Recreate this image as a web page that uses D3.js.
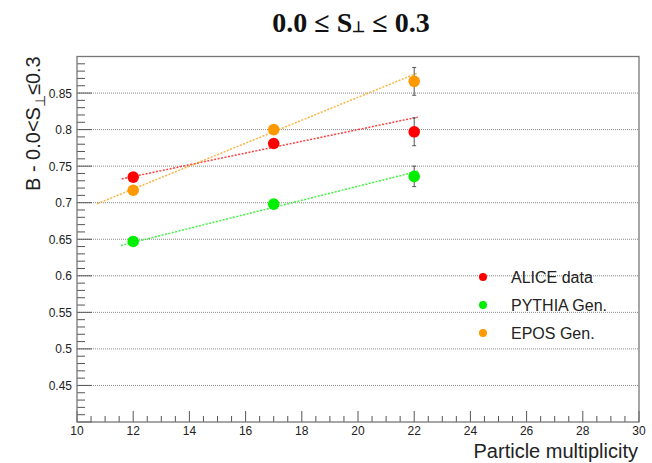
<!DOCTYPE html>
<html>
<head>
<meta charset="utf-8">
<script src="https://cdn.jsdelivr.net/npm/d3@7"></script>
<style>
  body { margin: 0; background: #fff; }
  svg { display: block; }
  .tick-label { font-family: "Liberation Sans", Arial, sans-serif; font-size: 12px; fill: #222; }
</style>
</head>
<body>
<div id="chart"></div>
<script>
var width = 652, height = 463;

// data
var multiplicity = [12, 17, 22];
var aliceB = [0.735, 0.781, 0.797];
var aliceErr = [0.003, 0.004, 0.019];
var pythiaB = [0.647, 0.698, 0.736];
var pythiaErr = [0.002, 0.003, 0.014];
var eposB = [0.717, 0.800, 0.866];
var eposErr = [0.003, 0.004, 0.019];

// linear fits: [p0, p1, xmin, xmax]
var aliceFit = [0.6396, 0.00802, 11.59, 22.13];
var pythiaFit = [0.5305, 0.0096, 11.56, 22.13];
var eposFit = [0.5304, 0.01569, 10.72, 22.13];

var seriesNames = ["ALICE data", "PYTHIA Gen.", "EPOS Gen."];
var seriesColors = ["#ff0000", "#00ee00", "#ff9900"];

var yMajorTicks = [0.45, 0.5, 0.55, 0.6, 0.65, 0.7, 0.75, 0.8, 0.85];
var xMajorTicks = [10, 12, 14, 16, 18, 20, 22, 24, 26, 28, 30];

var series = [
  { name: seriesNames[0], color: seriesColors[0], y: aliceB, err: aliceErr, fit: aliceFit },
  { name: seriesNames[1], color: seriesColors[1], y: pythiaB, err: pythiaErr, fit: pythiaFit },
  { name: seriesNames[2], color: seriesColors[2], y: eposB, err: eposErr, fit: eposFit }
];

var x = d3.scaleLinear().domain([10, 30]).range([77, 639]);
var y = d3.scaleLinear().domain([0.4, 0.9]).range([422, 56.5]);

var svg = d3.select('#chart').append('svg')
  .attr('width', width)
  .attr('height', height);

// grid
svg.selectAll('.grid')
  .data(yMajorTicks)
  .enter().append('line')
  .attr('class', 'grid')
  .attr('x1', x(10)).attr('x2', x(30))
  .attr('y1', function (d) { return y(d); })
  .attr('y2', function (d) { return y(d); })
  .style('stroke', '#888')
  .style('stroke-width', 1)
  .style('stroke-dasharray', '1,1');

// y ticks (minor every 0.01, major every 0.05)
var yMinor = d3.range(0, 51).map(function (i) { return 0.4 + i * 0.01; });
svg.selectAll('.ytick')
  .data(yMinor)
  .enter().append('line')
  .attr('x1', x(10))
  .attr('x2', function (d, i) { return x(10) + (i % 5 == 0 ? 15 : 8); })
  .attr('y1', function (d) { return y(d); })
  .attr('y2', function (d) { return y(d); })
  .style('stroke', '#555')
  .style('stroke-width', 1);

svg.selectAll('.ylabel')
  .data(yMajorTicks)
  .enter().append('text')
  .attr('class', 'tick-label')
  .attr('x', 72)
  .attr('y', function (d) { return y(d) + 4.5; })
  .style('text-anchor', 'end')
  .text(function (d) { return d3.format('')(+d.toFixed(2)); });

// x ticks (minor every 0.5, major every 2)
var xMinor = d3.range(0, 41).map(function (i) { return 10 + i * 0.5; });
svg.selectAll('.xtick')
  .data(xMinor)
  .enter().append('line')
  .attr('x1', function (d) { return x(d); })
  .attr('x2', function (d) { return x(d); })
  .attr('y1', y(0.4))
  .attr('y2', function (d, i) { return y(0.4) - (i % 4 == 0 ? 11 : 6); })
  .style('stroke', '#555')
  .style('stroke-width', 1);

svg.selectAll('.xlabel')
  .data(xMajorTicks)
  .enter().append('text')
  .attr('class', 'tick-label')
  .attr('x', function (d) { return x(d); })
  .attr('y', 435)
  .style('text-anchor', 'middle')
  .text(function (d) { return d; });

// frame
svg.append('rect')
  .attr('x', x(10)).attr('y', y(0.9))
  .attr('width', x(30) - x(10))
  .attr('height', y(0.4) - y(0.9))
  .style('fill', 'none')
  .style('stroke', '#777')
  .style('stroke-width', 1.3);

// fit lines
var line = d3.line()
  .x(function (d) { return x(d[0]); })
  .y(function (d) { return y(d[1]); });

series.forEach(function (s) {
  var f = s.fit;
  var pts = [[f[2], f[0] + f[1] * f[2]], [f[3], f[0] + f[1] * f[3]]];
  svg.append('path')
    .attr('d', line(pts))
    .style('fill', 'none')
    .style('stroke', s.color)
    .style('stroke-opacity', 0.75)
    .style('stroke-width', 1.5)
    .style('stroke-dasharray', '2,1.5');
});

// error bars and markers
series.forEach(function (s) {
  var g = svg.append('g');
  multiplicity.forEach(function (m, i) {
    var lo = y(s.y[i] - s.err[i]), hi = y(s.y[i] + s.err[i]);
    g.append('line')
      .attr('x1', x(m)).attr('x2', x(m))
      .attr('y1', lo).attr('y2', hi)
      .style('stroke', '#555').style('stroke-width', 1);
    [lo, hi].forEach(function (yy) {
      g.append('line')
        .attr('x1', x(m) - 2).attr('x2', x(m) + 2)
        .attr('y1', yy).attr('y2', yy)
        .style('stroke', '#555').style('stroke-width', 1);
    });
  });
  g.selectAll('circle')
    .data(multiplicity)
    .enter().append('circle')
    .attr('cx', function (d) { return x(d); })
    .attr('cy', function (d, i) { return y(s.y[i]); })
    .attr('r', 5.8)
    .style('fill', s.color);
});

// legend
var legend = svg.selectAll('.legend')
  .data(series)
  .enter().append('g')
  .attr('class', 'legend')
  .attr('transform', function (d, i) { return 'translate(483,' + (277 + i * 28) + ')'; });

legend.append('circle')
  .attr('r', 4)
  .style('fill', function (d) { return d.color; });

legend.append('text')
  .attr('x', 28)
  .attr('y', 5.5)
  .style('font-family', '"Liberation Sans", Arial, sans-serif')
  .style('font-size', '16px')
  .style('fill', '#222')
  .text(function (d) { return d.name; });

// title
var title = svg.append('text')
  .attr('x', 351)
  .attr('y', 31.5)
  .style('text-anchor', 'middle')
  .style('font-family', '"Liberation Serif", "Times New Roman", serif')
  .style('font-weight', 'bold')
  .style('font-size', '28px')
  .style('fill', '#111');
title.append('tspan').text('0.0 \u2264 S');
title.append('tspan').style('font-size', '15px').text('\u22a5');
title.append('tspan').text(' \u2264 0.3');

// axis titles
svg.append('text')
  .attr('x', 638)
  .attr('y', 458)
  .style('text-anchor', 'end')
  .style('font-family', '"Liberation Sans", Arial, sans-serif')
  .style('font-size', '20px')
  .style('fill', '#222')
  .text('Particle multiplicity');

var ytitle = svg.append('text')
  .attr('transform', 'translate(40,191) rotate(-90)')
  .style('text-anchor', 'start')
  .style('font-family', '"Liberation Sans", Arial, sans-serif')
  .style('font-size', '20px')
  .style('fill', '#222');
ytitle.append('tspan').text('B - 0.0<S');
ytitle.append('tspan').attr('dy', 5).style('font-size', '14px').text('\u22a5');
ytitle.append('tspan').attr('dy', -5).text('\u22640.3');
</script>
</body>
</html>
